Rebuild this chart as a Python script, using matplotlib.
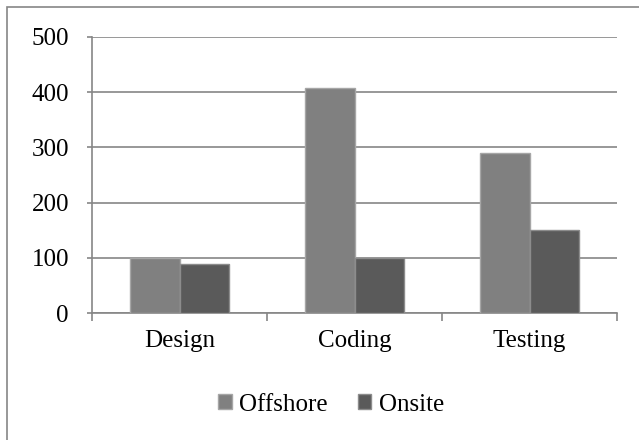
import numpy as np
import matplotlib.pyplot as plt
from matplotlib.patches import Rectangle

categories = ['Design', 'Coding', 'Testing']
offshore = [99, 408, 289]
onsite = [88, 100, 150]

plt.rcParams['font.family'] = ['Liberation Serif']

fig = plt.figure(figsize=(6.39, 4.40), dpi=100)
ax = fig.add_axes([92/639, 1-313/440, (617-92)/639, (313-37)/440])

x = np.arange(len(categories))
w = 0.2857
ax.bar(x - w/2, offshore, w, color='#808080', edgecolor='#a6a6a6', linewidth=1.0, label='Offshore', zorder=3)
ax.bar(x + w/2, onsite, w, color='#5a5a5a', edgecolor='#8c8c8c', linewidth=1.0, label='Onsite', zorder=3)

ax.set_xlim(-0.5, 2.5)
ax.set_ylim(0, 500)
ax.set_yticks(range(0, 501, 100))
ax.yaxis.grid(True, color='#868686', linewidth=1.2)
ax.set_axisbelow(True)

ax.set_xticks([-0.5, 0.5, 1.5, 2.5])
ax.set_xticklabels([])
ax.set_xticks(x, minor=True)
ax.set_xticklabels(categories, minor=True)
ax.tick_params(axis='x', which='major', length=5.5, color='#868686', width=1.2, direction='out')
ax.tick_params(axis='x', which='minor', length=0, labelsize=18, pad=12)
ax.tick_params(axis='y', length=3.6, color='#868686', width=1.2, labelsize=18, pad=13)

for s in ['top', 'right']:
    ax.spines[s].set_visible(False)
for s in ['left', 'bottom']:
    ax.spines[s].set_color('#868686')
    ax.spines[s].set_linewidth(1.2)

fig.legend(*ax.get_legend_handles_labels(), loc='center', bbox_to_anchor=(0.518, 0.08),
           ncol=2, frameon=False, fontsize=18, handlelength=0.55, handleheight=0.55,
           handletextpad=0.3, columnspacing=1.2)

fig.patches.append(Rectangle((7/639, -0.01), 1.0, 1 - 7/440 + 0.01, transform=fig.transFigure,
                             fill=False, edgecolor='#868686', linewidth=1.2))

fig.savefig('out.png', dpi=100)
